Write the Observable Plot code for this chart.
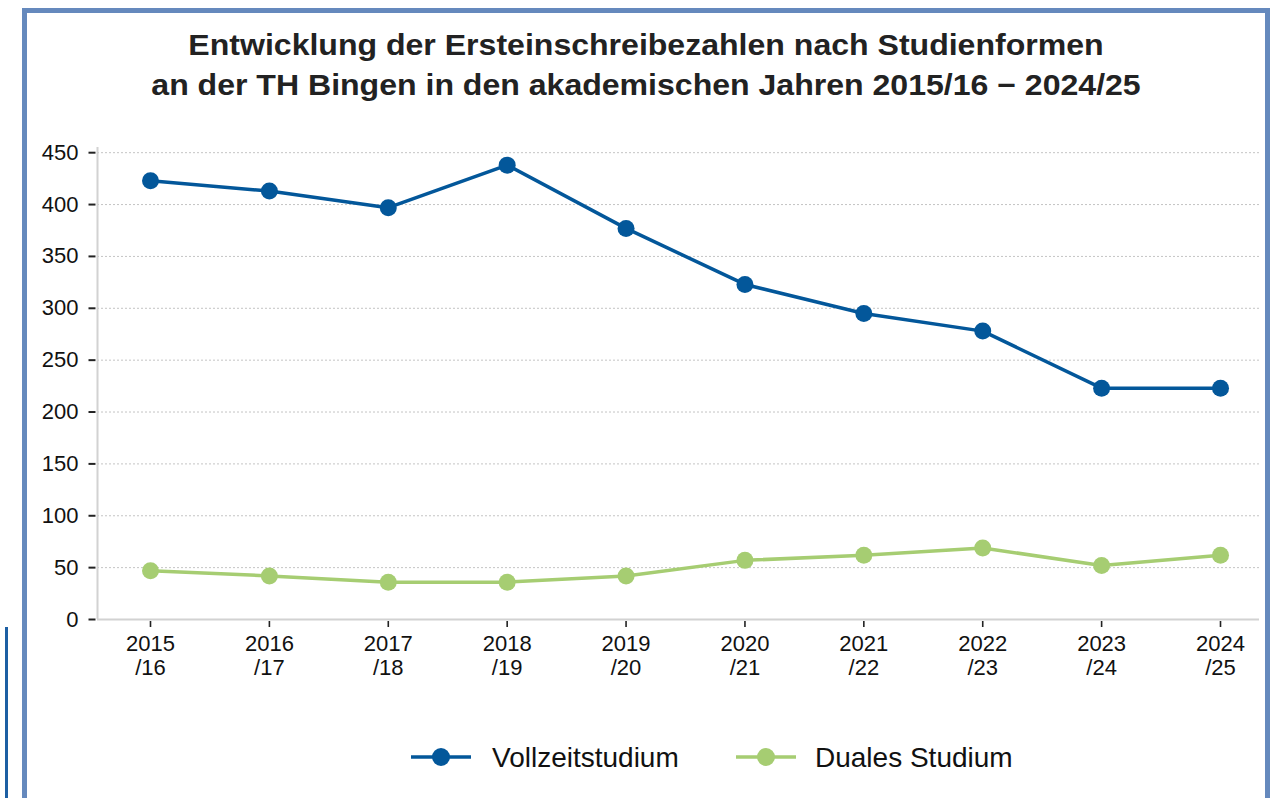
<!DOCTYPE html>
<html>
<head>
<meta charset="utf-8">
<script src="https://cdn.jsdelivr.net/npm/d3@7"></script>
<script src="https://cdn.jsdelivr.net/npm/@observablehq/plot@0.6"></script>
<style>
  html, body { margin: 0; padding: 0; background: #fff; }
  #page { position: relative; width: 1281px; height: 798px; overflow: hidden; background: #fff;
          font-family: "Liberation Sans", Arial, sans-serif; }
  #frame { position: absolute; left: 22px; top: 8px; width: 1237.5px; height: 820px;
           border: 5px solid #6589bd; border-bottom: none; }
  #sideline { position: absolute; left: 5px; top: 627px; width: 2.5px; height: 180px; background: #1d5fa3; }
  #title { position: absolute; left: 0; top: 24.5px; width: 1292px; text-align: center;
           font-size: 29px; line-height: 40px; font-weight: bold; color: #222;
           transform: scaleX(1.105); transform-origin: 646px 0; }
  #chart { position: absolute; left: 0; top: 0; }
  .leg { position: absolute; font-size: 28px; line-height: 30px; color: #111; white-space: nowrap; }
  .sw { position: absolute; }
</style>
</head>
<body>
<div id="page">
  <div id="frame"></div>
  <div id="sideline"></div>
  <div id="chart"></div>
  <div id="title">Entwicklung der Ersteinschreibezahlen nach Studienformen<br>an der TH Bingen in den akademischen Jahren 2015/16 − 2024/25</div>
  <div id="legend"></div>
</div>
<script>
// ---- data ----
const years = ["2015/16", "2016/17", "2017/18", "2018/19", "2019/20", "2020/21", "2021/22", "2022/23", "2023/24", "2024/25"];
const vollzeit = [423, 413, 397, 438, 377, 323, 295, 278, 223, 223];
const duales   = [47, 42, 36, 36, 42, 57, 62, 69, 52, 62];
const seriesNames = ["Vollzeitstudium", "Duales Studium"];
const seriesColors = ["#03579a", "#a6cd72"];
const yTicks = [0, 50, 100, 150, 200, 250, 300, 350, 400, 450];

const vzRows = years.map((y, i) => ({i, year: y, value: vollzeit[i]}));
const duRows = years.map((y, i) => ({i, year: y, value: duales[i]}));

const xMin = -0.4458, xMax = 9.328;

const chart = Plot.plot({
  width: 1281,
  height: 798,
  marginLeft: 97,
  marginRight: 22,
  marginTop: 147,
  marginBottom: 179,
  style: {fontFamily: "Liberation Sans, Arial, sans-serif", color: "#111", background: "transparent", overflow: "visible"},
  x: {type: "linear", domain: [xMin, xMax]},
  y: {domain: [0, 455]},
  marks: [
    Plot.gridY(yTicks.filter(d => d > 0), {stroke: "#c4c4c4", strokeOpacity: 1, strokeDasharray: "2,2", strokeWidth: 1}),
    Plot.ruleX([xMin], {stroke: "#d2d2d2", strokeWidth: 2}),
    Plot.ruleY([0], {stroke: "#d2d2d2", strokeWidth: 2}),
    Plot.axisY({ticks: yTicks, tickSize: 7, dx: -1.5, tickPadding: 10.5, fontSize: 22, strokeWidth: 2, stroke: "#222", tickFormat: d => String(d), label: null}),
    Plot.axisX({ticks: d3.range(10), tickSize: 6, dy: 2, tickPadding: 6, fontSize: 22, lineHeight: 1.1, strokeWidth: 1.6, stroke: "#222",
                tickFormat: i => years[i].replace("/", "\n/"), label: null}),
    Plot.line(vzRows, {x: "i", y: "value", stroke: seriesColors[0], strokeWidth: 3.5}),
    Plot.dot(vzRows, {x: "i", y: "value", r: 8.5, fill: seriesColors[0]}),
    Plot.line(duRows, {x: "i", y: "value", stroke: seriesColors[1], strokeWidth: 3.5}),
    Plot.dot(duRows, {x: "i", y: "value", r: 8.5, fill: seriesColors[1]})
  ]
});
document.getElementById("chart").appendChild(chart);

// ---- legend ----
const legend = document.getElementById("legend");
const legPos = [{sw: 410, text: 492}, {sw: 735, text: 815}];
seriesNames.forEach((name, k) => {
  const p = legPos[k];
  const sw = document.createElementNS("http://www.w3.org/2000/svg", "svg");
  sw.setAttribute("class", "sw");
  sw.setAttribute("width", 62);
  sw.setAttribute("height", 22);
  sw.style.left = p.sw + "px";
  sw.style.top = "746px";
  sw.innerHTML = `<line x1="1" x2="61" y1="11" y2="11" stroke="${seriesColors[k]}" stroke-width="3.5"/>` +
                 `<circle cx="31" cy="11" r="9" fill="${seriesColors[k]}"/>`;
  legend.appendChild(sw);
  const t = document.createElement("div");
  t.className = "leg";
  t.style.left = p.text + "px";
  t.style.top = "743px";
  t.textContent = name;
  legend.appendChild(t);
});
</script>
</body>
</html>
